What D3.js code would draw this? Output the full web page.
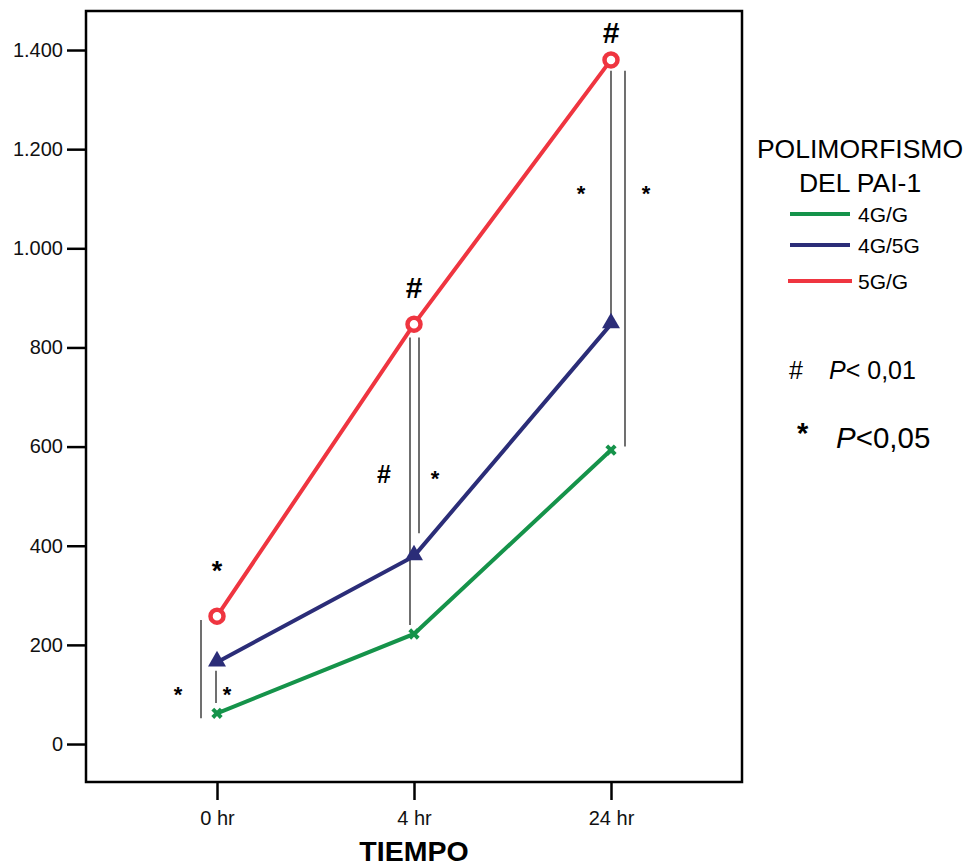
<!DOCTYPE html>
<html><head><meta charset="utf-8">
<script src="https://cdn.jsdelivr.net/npm/d3@7/dist/d3.min.js"></script>
<style>body{margin:0;background:#fff}svg{display:block;font-family:Arial,"Liberation Sans",sans-serif}</style>
</head><body><svg id="c" width="972" height="866"></svg>
<script>
const categories = ["0 hr", "4 hr", "24 hr"];
const yTicks = [0, 200, 400, 600, 800, 1000, 1200, 1400];
const seriesNames = ["4G/G", "4G/5G", "5G/G"];
const values4GG = [62, 222, 593];
const values4G5G = [165, 379, 847];
const values5GG = [258, 847, 1380];
// significance bars: [category index, x offset, from value, to value]
const sigBars = [
  [0, -16, 250, 52], [0, -1, 148, 83],
  [1, -4, 820, 240], [1, 5, 820, 425],
  [2, 0, 1358, 865], [2, 14, 1358, 600]
];
// significance labels: [category index, x offset, value, text, big]
const sigLabels = [
  [0, 0, 350, "*", true], [0, -39, 100, "*", false], [0, 10, 100, "*", false],
  [1, 0, 920, "#", true], [1, -30, 545, "#", false], [1, 21, 535, "*", false],
  [2, 0, 1435, "#", true], [2, -30, 1110, "*", false], [2, 35, 1110, "*", false]
];

const colors = {"4G/G": "#15934a", "4G/5G": "#2b2d78", "5G/G": "#ef3540"};
const series = [
  {name: seriesNames[0], vals: values4GG},
  {name: seriesNames[1], vals: values4G5G},
  {name: seriesNames[2], vals: values5GG}
];

const FF = "Arial, 'Liberation Sans', sans-serif";
const svg = d3.select("#c");
const L = 86, R = 742, T = 11, B = 782;
const x = d3.scalePoint().domain(categories).range([L, R]).padding(0.665);
const y = d3.scaleLinear().domain([-76.6, 1478.7]).range([B, T]);

// frame
svg.append("rect").attr("x", L).attr("y", T).attr("width", R - L).attr("height", B - T)
  .attr("fill", "none").attr("stroke", "#000").attr("stroke-width", 2.5);

const fmt = d => d3.format(",")(d).replace(/,/g, ".");
const ya = svg.append("g").attr("transform", `translate(${L},0)`)
  .call(d3.axisLeft(y).tickValues(yTicks).tickSize(19).tickPadding(4).tickFormat(fmt));
ya.attr("font-family", FF).attr("font-size", 20);
ya.select(".domain").remove();
ya.selectAll("line").attr("stroke-width", 2.5);
ya.selectAll("text").attr("fill", "#111");

const xa = svg.append("g").attr("transform", `translate(0,${B})`)
  .call(d3.axisBottom(x).tickSize(18).tickPadding(11));
xa.attr("font-family", FF).attr("font-size", 20);
xa.select(".domain").remove();
xa.selectAll("line").attr("stroke-width", 2.5);
xa.selectAll("text").attr("fill", "#111");

svg.append("text").attr("x", x(categories[1])).attr("y", 861).attr("text-anchor", "middle")
  .attr("font-size", 28.5).attr("font-weight", "bold").text("TIEMPO");

// significance bars
svg.selectAll(".sig").data(sigBars).join("line")
  .attr("x1", d => x(categories[d[0]]) + d[1]).attr("x2", d => x(categories[d[0]]) + d[1])
  .attr("y1", d => y(d[2])).attr("y2", d => y(d[3]))
  .attr("stroke", "#333").attr("stroke-width", 1.4);

// lines
const line = d3.line().x((d, i) => x(categories[i])).y(d => y(d));
series.forEach(s => {
  svg.append("path").attr("d", line(s.vals)).attr("fill", "none")
    .attr("stroke", colors[s.name]).attr("stroke-width", 4);
});

// markers
const g4 = series[0];
g4.vals.forEach((v, i) => {
  svg.append("path").attr("d", d3.symbol(d3.symbolCross, 80)())
    .attr("transform", `translate(${x(categories[i])},${y(v)}) rotate(45)`)
    .attr("fill", colors[g4.name]);
});
const g45 = series[1];
g45.vals.forEach((v, i) => {
  svg.append("path").attr("d", d3.symbol(d3.symbolTriangle, 140)())
    .attr("transform", `translate(${x(categories[i])},${y(v) - 1})`)
    .attr("fill", colors[g45.name]);
});
const g5 = series[2];
g5.vals.forEach((v, i) => {
  svg.append("circle").attr("cx", x(categories[i])).attr("cy", y(v)).attr("r", 6.5)
    .attr("fill", "#fff").attr("stroke", colors[g5.name]).attr("stroke-width", 4.5);
});

// significance labels
svg.selectAll(".sl").data(sigLabels).join("text")
  .attr("x", d => x(categories[d[0]]) + d[1]).attr("y", d => y(d[2]))
  .attr("text-anchor", "middle").attr("dominant-baseline", "central")
  .attr("font-weight", "bold").attr("font-size", d => d[4] ? (d[3] === "#" ? 30 : 27) : (d[3] === "#" ? 25 : 22))
  .text(d => d[3]);

// legend
svg.append("text").attr("x", 860).attr("y", 158).attr("text-anchor", "middle").attr("font-size", 26.5).text("POLIMORFISMO");
svg.append("text").attr("x", 860).attr("y", 192).attr("text-anchor", "middle").attr("font-size", 26.5).text("DEL PAI-1");
const ly = [214, 245, 281];
series.forEach((s, i) => {
  svg.append("line").attr("x1", i === 2 ? 788 : 790).attr("x2", i === 2 ? 852 : 850)
    .attr("y1", ly[i]).attr("y2", ly[i]).attr("stroke", colors[s.name]).attr("stroke-width", 4);
  svg.append("text").attr("x", 858).attr("y", ly[i] + 7.5).attr("font-size", 21).text(s.name);
});
svg.append("text").attr("x", 789).attr("y", 379).attr("font-size", 25).text("#");
svg.append("text").attr("x", 829).attr("y", 379).attr("font-size", 25).html('<tspan font-style="italic">P</tspan>&lt; 0,01');
svg.append("text").attr("x", 797).attr("y", 443).attr("font-size", 29).attr("font-weight", "bold").text("*");
svg.append("text").attr("x", 836).attr("y", 448).attr("font-size", 29.5).html('<tspan font-style="italic">P</tspan>&lt;0,05');
</script></body></html>
